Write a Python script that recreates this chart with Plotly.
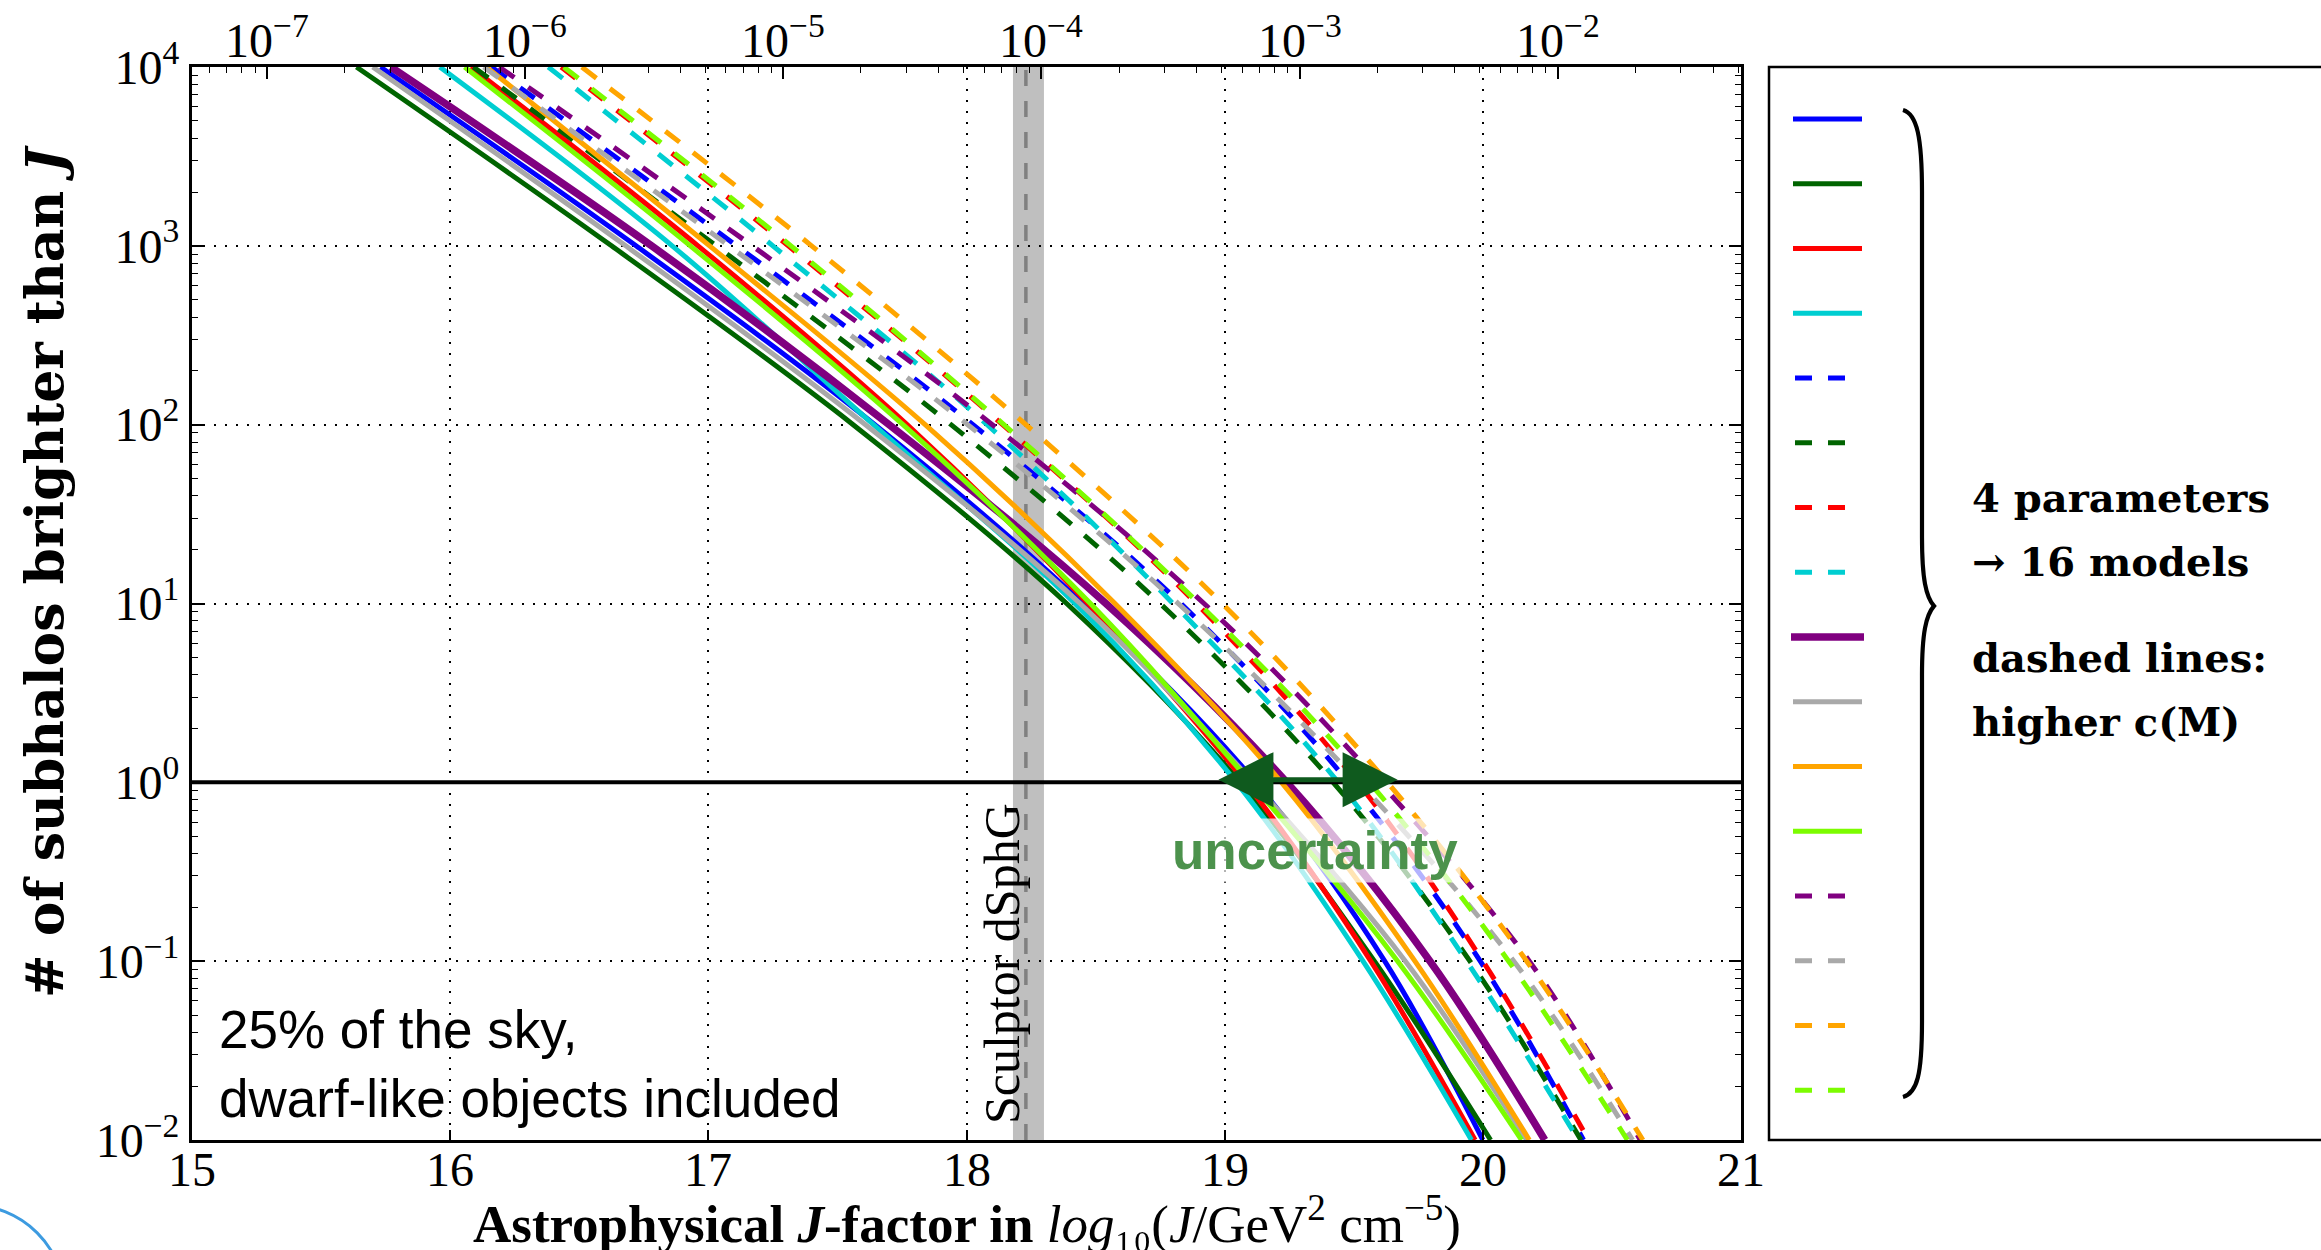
import math
import plotly.graph_objects as go

# ---------------------------------------------------------------------------
# Data: cumulative number of subhalos brighter than J, for 16 models.
# Each model lists log10(J) at which the count reaches the levels below.
# ---------------------------------------------------------------------------
counts = [1e4, 1e3, 1e2, 1e1, 1e0, 1e-1, 1e-2]

model_colors = ["#0000ff", "#006400", "#ff0000", "#00ced1",
                "#0000ff", "#006400", "#ff0000", "#00ced1",
                "#800080", "#a9a9a9", "#ffa500", "#7cfc00",
                "#800080", "#a9a9a9", "#ffa500", "#7cfc00"]
model_dashed = [False, False, False, False, True, True, True, True,
                False, False, False, False, True, True, True, True]

logJ_blue          = [15.73, 16.72, 17.645, 18.45, 19.12, 19.62, 20.00]
logJ_darkgreen     = [15.637, 16.625, 17.561, 18.388, 19.06, 19.58, 20.03]
logJ_red           = [16.08, 16.96, 17.77, 18.47, 19.08, 19.566, 19.97]
logJ_cyan          = [15.96, 16.86, 17.64, 18.42, 19.045, 19.536, 19.956]
logJ_blue_hc       = [16.16, 17.11, 18.025, 18.83, 19.48, 19.99, 20.39]
logJ_darkgreen_hc  = [16.09, 17.03, 17.94, 18.75, 19.42, 19.95, 20.38]
logJ_red_hc        = [16.43, 17.31, 18.14, 18.89, 19.515, 20.00, 20.41]
logJ_cyan_hc       = [16.38, 17.25, 18.08, 18.80, 19.44, 19.937, 20.37]
logJ_purple        = [15.77, 16.78, 17.70, 18.54, 19.24, 19.795, 20.24]
logJ_gray          = [15.70, 16.68, 17.609, 18.44, 19.11, 19.70, 20.17]
logJ_orange        = [16.14, 17.005, 17.84, 18.575, 19.22, 19.737, 20.18]
logJ_lawngreen     = [16.056, 16.93, 17.754, 18.48, 19.10, 19.67, 20.15]
logJ_purple_hc     = [16.19, 17.17, 18.10, 18.92, 19.60, 20.18, 20.61]
logJ_gray_hc       = [16.13, 17.08, 18.005, 18.82, 19.52, 20.12, 20.58]
logJ_orange_hc     = [16.51, 17.40, 18.23, 18.99, 19.63, 20.17, 20.62]
logJ_lawngreen_hc  = [16.44, 17.32, 18.145, 18.90, 19.56, 20.10, 20.56]

models = [logJ_blue, logJ_darkgreen, logJ_red, logJ_cyan,
          logJ_blue_hc, logJ_darkgreen_hc, logJ_red_hc, logJ_cyan_hc,
          logJ_purple, logJ_gray, logJ_orange, logJ_lawngreen,
          logJ_purple_hc, logJ_gray_hc, logJ_orange_hc, logJ_lawngreen_hc]

# Sculptor dwarf spheroidal: central value and band
sculptor_logJ = 18.23
sculptor_band = [18.18, 18.30]

# Spread of the models at N = 1
uncertainty_range = [18.97, 19.67]
one_subhalo = 1.0

x_ticks = [15, 16, 17, 18, 19, 20, 21]
y_ticks = [1e-2, 1e-1, 1e0, 1e1, 1e2, 1e3, 1e4]
y_ticktext = ["10<sup>\u22122</sup>", "10<sup>\u22121</sup>", "10<sup>0</sup>",
              "10<sup>1</sup>", "10<sup>2</sup>", "10<sup>3</sup>", "10<sup>4</sup>"]
top_ticks = [1e-7, 1e-6, 1e-5, 1e-4, 1e-3, 1e-2]
top_ticktext = ["10<sup>\u22127</sup>", "10<sup>\u22126</sup>", "10<sup>\u22125</sup>",
                "10<sup>\u22124</sup>", "10<sup>\u22123</sup>", "10<sup>\u22122</sup>"]
top_axis_offset = 22.29   # top axis = J shifted by this many decades

side_text = ["4 parameters", "\u2192 16 models", "dashed lines:", "higher c(M)"]

# ---------------------------------------------------------------------------
W, H = 2321, 1250
ML, MR, MT, MB = 192, 0, 67, 110
plot_w = W - ML - MR
plot_h = H - MT - MB
main_end = 1549 / plot_w
panel_start = (1769 - ML) / plot_w

SERIF = "Liberation Serif"
BOLD_SERIF = "DejaVu Serif"
SANS = "Liberation Sans"

fig = go.Figure()

for logJ, color, dashed in zip(models, model_colors, model_dashed):
    width = 7.5 if color == "#800080" and not dashed else 5
    fig.add_trace(go.Scatter(
        x=logJ, y=counts, mode="lines",
        line=dict(color=color, width=width, shape="spline", smoothing=1.0,
                  dash="18px,17px" if dashed else "solid"),
        showlegend=False, hoverinfo="skip", xaxis="x", yaxis="y"))

# N = 1 reference line
fig.add_trace(go.Scatter(
    x=[x_ticks[0], x_ticks[-1]], y=[one_subhalo, one_subhalo], mode="lines",
    line=dict(color="black", width=4), showlegend=False, hoverinfo="skip"))

# helper trace so the top axis is drawn
fig.add_trace(go.Scatter(
    x=[top_ticks[2]], y=[one_subhalo], mode="markers", marker=dict(opacity=0),
    showlegend=False, hoverinfo="skip", xaxis="x2", yaxis="y"))

# legend samples in the side panel (pixel units of the panel)
for i, (color, dashed) in enumerate(zip(model_colors, model_dashed)):
    yy = 52 + 64.75 * i
    thick = color == "#800080" and not dashed
    if dashed:
        xs = [26, 76]
    elif thick:
        xs = [22, 95]
    else:
        xs = [24, 93]
    fig.add_trace(go.Scatter(
        x=xs, y=[yy, yy], mode="lines",
        line=dict(color=color, width=7.5 if thick else 5,
                  dash="17px,16px" if dashed else "solid"),
        showlegend=False, hoverinfo="skip", xaxis="x3", yaxis="y3"))

shapes = [
    # Sculptor band and central value
    dict(type="rect", xref="x", yref="paper", x0=sculptor_band[0], x1=sculptor_band[1],
         y0=0, y1=1, fillcolor="#bfbfbf", line=dict(width=0), layer="below"),
    dict(type="line", xref="x", yref="paper", x0=sculptor_logJ, x1=sculptor_logJ,
         y0=0, y1=1, line=dict(color="#808080", width=3.5, dash="16px,15px"), layer="below"),
    # side panel frame
    dict(type="rect", xref="paper", yref="paper", x0=panel_start, x1=1.02, y0=0, y1=1,
         line=dict(color="black", width=2.5), fillcolor="rgba(0,0,0,0)"),
    # curly brace
    dict(type="path", xref="x3", yref="y3",
         path="M 134,43 C 148,47 153,70 153,125 L 153,470 C 153,512 157,530 165,539 "
              "C 157,548 153,566 153,608 L 153,955 C 153,1008 148,1026 134,1030",
         line=dict(color="black", width=4.2)),
    # logo fragment in the corner
    dict(type="circle", xref="paper", yref="paper",
         x0=(-125 - ML) / plot_w, x1=(65 - ML) / plot_w,
         y0=(1140 - 1395) / plot_h, y1=(1140 - 1205) / plot_h,
         line=dict(color="#3d9be0", width=3)),
]

annotations = [
    dict(text="Sculptor dSphG", x=18.137, y=-1.92, xref="x", yref="y",
         textangle=-90, xanchor="center", yanchor="bottom", showarrow=False,
         font=dict(family=SERIF, size=50, color="black")),
    dict(text="25% of the sky,<br>dwarf-like objects included", x=15.097, y=-1.575,
         xref="x", yref="y", xanchor="left", yanchor="middle", align="left",
         showarrow=False, font=dict(family=SANS, size=53, color="black")),
    dict(text="", x=uncertainty_range[1], y=0.015, ax=uncertainty_range[0], ay=0.015,
         xref="x", yref="y", axref="x", ayref="y", showarrow=True,
         arrowhead=2, startarrowhead=2, arrowside="end+start", arrowwidth=5,
         arrowsize=2.2, startarrowsize=2.2, arrowcolor="#0f5a1e",
         standoff=0, startstandoff=0),
    dict(text="<b>uncertainty</b>", x=19.35, y=-0.38, xref="x", yref="y",
         showarrow=False, font=dict(family=SANS, size=53, color="rgb(76,146,76)"),
         bgcolor="rgba(255,255,255,0.7)", borderpad=2),
    # axis titles
    dict(text="<b># of subhalos brighter than <i>J</i></b>", xref="paper", yref="paper",
         x=0, y=(1140 - 572) / plot_h, xshift=44 - ML, textangle=-90,
         xanchor="center", yanchor="middle", showarrow=False,
         font=dict(family=BOLD_SERIF, size=52, color="black")),
    dict(text="<b>Astrophysical <i>J</i>-factor in</b> <i>log</i>\u2081\u2080"
              "(<i>J</i>/GeV<sup>2</sup> cm<sup>\u22125</sup>)",
         xref="paper", yref="paper", x=main_end / 2, y=0, yshift=-80,
         xanchor="center", yanchor="middle", showarrow=False,
         font=dict(family=SERIF, size=53, color="black")),
]

# bottom and top tick labels, placed close to the frame
for v in x_ticks:
    annotations.append(dict(text=str(v), x=v, xref="x", y=0, yref="paper",
                            yshift=-29, xanchor="center", yanchor="middle",
                            showarrow=False, font=dict(family=SERIF, size=48)))
for v, txt in zip(top_ticks, top_ticktext):
    annotations.append(dict(text=txt, x=math.log10(v), xref="x2", y=1, yref="paper",
                            yshift=-2, xanchor="center", yanchor="bottom",
                            showarrow=False, font=dict(family=SERIF, size=48)))

for txt, yy in zip(side_text, [430, 494, 590, 654]):
    annotations.append(dict(text="<b>" + txt + "</b>", x=201, y=yy, xref="x3", yref="y3",
                            xanchor="left", yanchor="middle", showarrow=False,
                            font=dict(family=BOLD_SERIF, size=40, color="black")))

minor_y = [m * 10.0 ** k for k in range(-2, 4) for m in range(2, 10)]
minor_top = [m * 10.0 ** k for k in range(-8, -1) for m in range(2, 10)]

fig.update_layout(
    width=W, height=H,
    margin=dict(l=ML, r=MR, t=MT, b=MB, autoexpand=False),
    paper_bgcolor="white", plot_bgcolor="white",
    font=dict(family=SERIF, size=48, color="black"),
    xaxis=dict(domain=[0, main_end], range=[15, 21], tickvals=x_ticks,
               showticklabels=False, ticks="inside", ticklen=10,
               tickwidth=1.5, tickcolor="black", showline=True, linewidth=3,
               linecolor="black", mirror=True, showgrid=True, gridcolor="black",
               gridwidth=1.5, griddash="2px,9px", zeroline=False, anchor="y",
               automargin=False),
    xaxis2=dict(overlaying="x", side="top", anchor="y", type="log",
                range=[15 - top_axis_offset, 21 - top_axis_offset],
                tickvals=top_ticks, showticklabels=False, ticks="inside", ticklen=12,
                tickwidth=1.5, tickcolor="black", showline=True, linewidth=3,
                linecolor="black", showgrid=False, zeroline=False, automargin=False,
                minor=dict(tickvals=minor_top, ticks="inside", ticklen=6,
                           tickwidth=1.2, tickcolor="black", showgrid=False)),
    yaxis=dict(type="log", range=[-2, 4], tickvals=y_ticks, ticktext=y_ticktext,
               ticks="inside", ticklen=12, tickwidth=1.5, tickcolor="black",
               showline=True, linewidth=3, linecolor="black", mirror="ticks",
               showgrid=True, gridcolor="black", gridwidth=1.5, griddash="2px,9px",
               zeroline=False, anchor="x", automargin=False,
               tickfont=dict(family=SERIF, size=48),
               minor=dict(tickvals=minor_y, ticks="inside", ticklen=6,
                          tickwidth=1.2, tickcolor="black", showgrid=False)),
    xaxis3=dict(domain=[panel_start, 1], range=[0, W - 1769], visible=False,
                anchor="y3", fixedrange=True, automargin=False),
    yaxis3=dict(domain=[0, 1], range=[1073, 0], visible=False, anchor="x3",
                fixedrange=True, automargin=False),
    shapes=shapes, annotations=annotations, showlegend=False,
)

fig.write_html("out.html")
